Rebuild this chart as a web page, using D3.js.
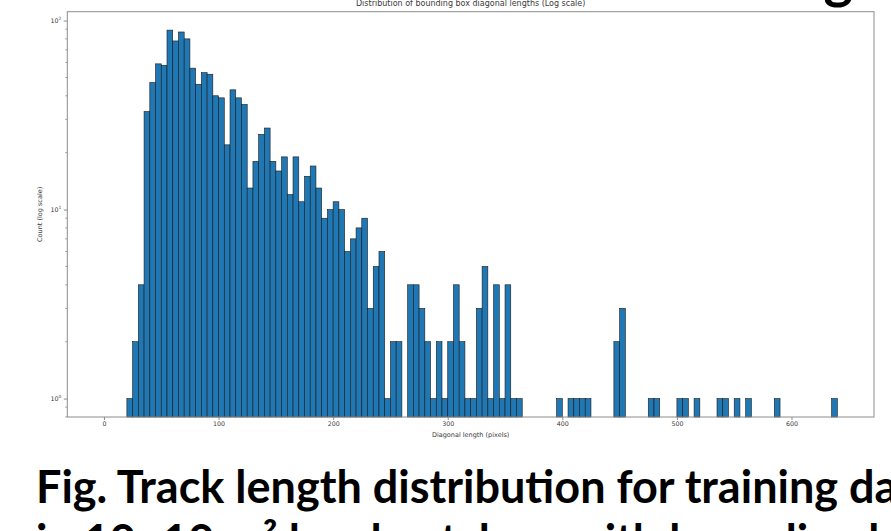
<!DOCTYPE html>
<html>
<head>
<meta charset="utf-8">
<script src="https://cdn.jsdelivr.net/npm/d3@7"></script>
<style>
  html, body { margin: 0; padding: 0; background: #fff; }
  svg { display: block; }
</style>
</head>
<body>
<svg id="chart" width="891" height="531"></svg>
<script>
// Histogram of bounding-box diagonal lengths, 5 px bins from 0 to 640 px.
const binStart = 0;
const binWidth = 5;
const counts = [
  0, 0, 0, 0, 1, 2, 4, 33, 47, 59,
  58, 89, 78, 87, 80, 56, 46, 53, 52, 40,
  39, 22, 43, 39, 36, 13, 18, 25, 27, 18,
  16, 19, 12, 19, 11, 15, 17, 13, 9, 10,
  11, 10, 6, 7, 8, 9, 3, 5, 6, 1,
  2, 2, 0, 4, 4, 3, 2, 1, 2, 1,
  2, 4, 2, 1, 1, 3, 5, 1, 4, 1,
  4, 1, 1, 0, 0, 0, 0, 0, 0, 1,
  0, 1, 1, 1, 1, 0, 0, 0, 0, 2,
  3, 0, 0, 0, 0, 1, 1, 0, 0, 0,
  1, 1, 0, 1, 0, 0, 0, 1, 1, 0,
  1, 0, 1, 0, 0, 0, 0, 1, 0, 0,
  0, 0, 0, 0, 0, 0, 0, 1
];
const xTickValues = [0, 100, 200, 300, 400, 500, 600];
const yTickValues = [1, 10, 100];
const yTickExponents = ["0", "1", "2"];

const chartTitle = "Distribution of bounding box diagonal lengths (Log scale)";
const xLabel = "Diagonal length (pixels)";
const yLabel = "Count (log scale)";
const captionLine1 = "Fig. Track length distribution for training data";
const captionLine2 = "in 10×10 m² local patches, with bounding box filtering applied";
const headingLead = "Filtering";
const headingTail = " Metrics";

const svg = d3.select("#chart");
svg.append("rect").attr("width", 891).attr("height", 531).attr("fill", "#fff");

// Plot area
const plot = { left: 67.3, right: 874, top: 11.7, bottom: 417 };

const bins = counts.map((c, i) => ({ x0: binStart + i * binWidth, x1: binStart + (i + 1) * binWidth, count: c }));
const xMin = bins[0].x0, xMax = bins[bins.length - 1].x1;
const xPad = 0.05 * (xMax - xMin);
const x = d3.scaleLinear().domain([xMin - xPad, xMax + xPad]).range([plot.left, plot.right]);

const logHi = Math.log10(d3.max(counts));
const logPad = 0.05 * logHi;
const y = d3.scaleLog().domain([Math.pow(10, -logPad), Math.pow(10, logHi + logPad)]).range([plot.bottom, plot.top]);

const font = "DejaVu Sans, sans-serif";
const textColor = "#3a3a3a";

// Bars
svg.append("g")
  .selectAll("rect")
  .data(bins.filter(d => d.count > 0))
  .join("rect")
  .attr("x", d => x(d.x0))
  .attr("width", d => x(d.x1) - x(d.x0))
  .attr("y", d => y(d.count))
  .attr("height", d => plot.bottom - y(d.count))
  .attr("fill", "#1f77b4")
  .attr("stroke", "#1b1b1b")
  .attr("stroke-width", 0.6);

// Frame
svg.append("rect")
  .attr("x", plot.left).attr("y", plot.top)
  .attr("width", plot.right - plot.left).attr("height", plot.bottom - plot.top)
  .attr("fill", "none").attr("stroke", "#8c8c8c").attr("stroke-width", 1);

// X axis
const xAxis = svg.append("g")
  .attr("transform", `translate(0,${plot.bottom})`)
  .call(d3.axisBottom(x).tickValues(xTickValues).tickSize(3).tickPadding(2).tickFormat(d3.format("d")));
xAxis.select(".domain").remove();
xAxis.selectAll(".tick line").attr("stroke", "#8c8c8c");
xAxis.selectAll(".tick text").attr("font-family", font).attr("font-size", 6.3).attr("fill", textColor);

// Y axis: major ticks with power-of-ten labels, minor ticks between
const [yLo, yHi] = y.domain();
const minorTicks = [];
for (let k = -1; k <= 2; k++) {
  for (let m = 2; m <= 9; m++) {
    const v = m * Math.pow(10, k);
    if (v >= yLo && v <= yHi) minorTicks.push(v);
  }
}
const yAxis = svg.append("g")
  .attr("transform", `translate(${plot.left},0)`)
  .call(d3.axisLeft(y).tickValues(yTickValues).tickSize(3.5).tickFormat(""));
yAxis.select(".domain").remove();
yAxis.selectAll(".tick line").attr("stroke", "#8c8c8c");

svg.append("g")
  .selectAll("line")
  .data(minorTicks)
  .join("line")
  .attr("x1", plot.left - 2).attr("x2", plot.left)
  .attr("y1", d => y(d)).attr("y2", d => y(d))
  .attr("stroke", "#8c8c8c").attr("stroke-width", 0.8);

const yLabels = svg.append("g")
  .selectAll("text")
  .data(yTickValues)
  .join("text")
  .attr("x", plot.left - 6)
  .attr("y", d => y(d) + 2.2)
  .attr("text-anchor", "end")
  .attr("font-family", font).attr("font-size", 6.3).attr("fill", textColor);
yLabels.append("tspan").text("10");
yLabels.append("tspan").attr("font-size", 4.4).attr("dy", -2.6).text((d, i) => yTickExponents[i]);

// Axis titles and chart title
svg.append("text")
  .attr("x", (plot.left + plot.right) / 2).attr("y", 437)
  .attr("text-anchor", "middle")
  .attr("font-family", font).attr("font-size", 6.5).attr("fill", textColor)
  .text(xLabel);

svg.append("text")
  .attr("transform", `translate(42,${(plot.top + plot.bottom) / 2}) rotate(-90)`)
  .attr("text-anchor", "middle")
  .attr("font-family", font).attr("font-size", 6.5).attr("fill", textColor)
  .text(yLabel);

svg.append("text")
  .attr("x", (plot.left + plot.right) / 2).attr("y", 6.2)
  .attr("text-anchor", "middle")
  .attr("font-family", font).attr("font-size", 8).attr("fill", textColor)
  .text(chartTitle);

// Slide heading above the figure (only its lower edge falls inside the view)
const heading = svg.append("text")
  .attr("y", -2)
  .attr("font-family", "Lato, sans-serif").attr("font-weight", 700)
  .attr("font-size", 56).attr("fill", "#000");
heading.append("tspan").text(headingLead);
heading.append("tspan").text(headingTail);
const leadWidth = heading.node().getSubStringLength(0, headingLead.length);
heading.attr("x", 853 - leadWidth);

// Caption below the figure
svg.append("text")
  .attr("x", 36).attr("y", 503)
  .attr("font-family", "Lato, sans-serif").attr("font-weight", 700)
  .attr("font-size", 45).attr("fill", "#000")
  .text(captionLine1);

svg.append("text")
  .attr("x", 36).attr("y", 557)
  .attr("font-family", "Lato, sans-serif").attr("font-weight", 700)
  .attr("font-size", 45).attr("fill", "#000")
  .text(captionLine2);
</script>
</body>
</html>
